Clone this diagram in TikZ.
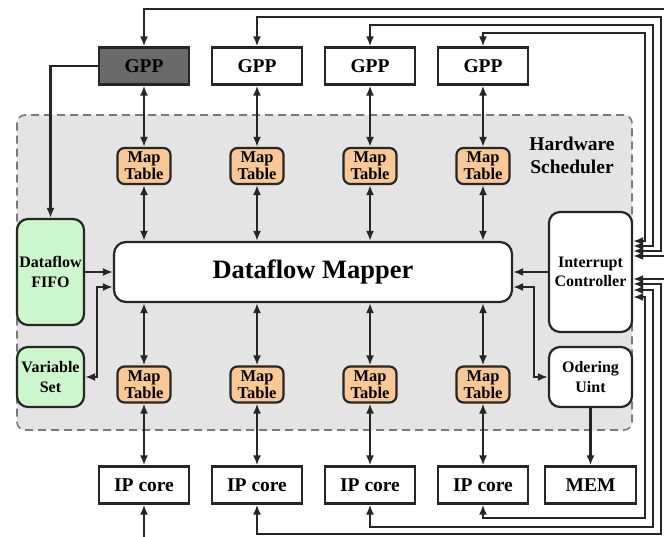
\documentclass[tikz,border=0pt]{standalone}
\usepackage{fontspec}
\setmainfont{Liberation Serif}
\usetikzlibrary{arrows.meta}

\definecolor{ink}{HTML}{262626}
\definecolor{gppdark}{HTML}{6A6A6A}
\definecolor{maporange}{HTML}{F9C897}
\definecolor{softgreen}{HTML}{CCF7CC}
\definecolor{hsfill}{HTML}{E4E4E4}
\definecolor{hsline}{HTML}{7A7A7A}

\begin{document}
\begin{tikzpicture}[x=1pt,y=-1pt,
  >={Latex[length=10pt,width=8pt]},
  conn/.style={draw=ink, line width=2.2pt},
  box/.style={draw=ink, line width=2.2pt, fill=white, inner sep=0pt, text=black,
    font=\bfseries\fontsize{19.5}{21}\selectfont},
  unitbox/.style={box, minimum width=90pt, minimum height=37pt},
  maptab/.style={box, fill=maporange, rounded corners=7pt, minimum width=53pt,
    minimum height=36pt, align=center, font=\bfseries\fontsize{16.5}{17}\selectfont},
  sidebox/.style={box, rounded corners=11pt, align=center,
    font=\bfseries\fontsize{16}{19.5}\selectfont},
  region/.style={draw=hsline, fill=hsfill, line width=1.6pt, dash pattern=on 8pt off 5pt,
    rounded corners=8pt, inner sep=0pt},
]
\useasboundingbox (0,0) rectangle (664,537);
\clip (0,0) rectangle (664,537);
\fill[white] (0,0) rectangle (664,537);

% hardware scheduler area
\node[region, minimum width=615pt, minimum height=315pt] (hs) at (324.5,272.5) {};
\node[align=center, inner sep=0pt, font=\bfseries\fontsize{19.5}{23}\selectfont] (hslabel)
  at (572,155) {Hardware\\Scheduler};

% processors on top
\node[unitbox, fill=gppdark] (g1) at (144,66) {GPP};
\node[unitbox] (g2) at (257,66) {GPP};
\node[unitbox] (g3) at (370,66) {GPP};
\node[unitbox] (g4) at (483,66) {GPP};

% IP cores and memory at the bottom
\node[unitbox] (ip1) at (144,485) {IP core};
\node[unitbox] (ip2) at (257,485) {IP core};
\node[unitbox] (ip3) at (370,485) {IP core};
\node[unitbox] (ip4) at (483,485) {IP core};
\node[unitbox, minimum width=91pt] (mem) at (590.5,485) {MEM};

% map tables
\foreach \i/\x in {1/144,2/257,3/370,4/483} {
  \node[maptab] (mt\i) at (\x,166) {Map\\Table};
  \node[maptab] (mb\i) at (\x,384.5) {Map\\Table};
}

% central mapper and side blocks
\node[box, rounded corners=12pt, minimum width=398pt, minimum height=60pt,
  font=\bfseries\fontsize{26.5}{28}\selectfont] (mapper) at (313,272) {Dataflow Mapper};
\node[sidebox, fill=softgreen, minimum width=67pt, minimum height=106pt] (fifo) at (50.5,272) {Dataflow\\FIFO};
\node[sidebox, fill=softgreen, minimum width=67pt, minimum height=60pt] (vs) at (50.5,377) {Variable\\Set};
\node[sidebox, minimum width=83pt, minimum height=120pt] (ic) at (590.5,272) {Interrupt\\Controller};
\node[sidebox, minimum width=83pt, minimum height=60pt] (ou) at (590.5,377) {Odering\\Uint};

% vertical links through the map tables
\foreach \i in {1,...,4} {
  \draw[conn,<->] (g\i) -- (mt\i);
  \draw[conn,<->] (mt\i) -- (mt\i |- mapper.north);
  \draw[conn,<->] (mt\i |- mapper.south) -- (mb\i);
  \draw[conn,<->] (mb\i) -- (ip\i);
}

% left side
\draw[conn,->] (g1.west) -| (fifo.north);
\draw[conn,->] (fifo.east |- 0,272) -- (mapper.west |- 0,272);
\draw[conn,<->] (mapper.west |- 0,287) -- (97,287) |- (vs.east);

% right side
\draw[conn,->] (ic.west) -- (mapper.east |- ic.west);
\draw[conn,<->] (mapper.east |- 0,287) -- (534,287) |- (ou.west);
\draw[conn,->] (ou) -- (mem);

% interrupt lines to the processors
\draw[conn,<->] (g1.north) |- (670,9) -- (670,256) -- (ic.east |- 0,256);
\draw[conn,<->] (g2.north) |- (661,17) -- (661,251) -- (ic.east |- 0,251);
\draw[conn,<->] (g3.north) |- (653,25) -- (653,246) -- (ic.east |- 0,246);
\draw[conn,<->] (g4.north) |- (645,33) -- (645,241) -- (ic.east |- 0,241);

% interrupt lines to the IP cores
\draw[conn,<->] (ip1.south) |- (670,545) -- (670,279) -- (ic.east |- 0,279);
\draw[conn,<->] (ip2.south) |- (661,534) -- (661,284) -- (ic.east |- 0,284);
\draw[conn,<->] (ip3.south) |- (653,527) -- (653,290) -- (ic.east |- 0,290);
\draw[conn,<->] (ip4.south) |- (645,518) -- (645,297) -- (ic.east |- 0,297);
\end{tikzpicture}
\end{document}
